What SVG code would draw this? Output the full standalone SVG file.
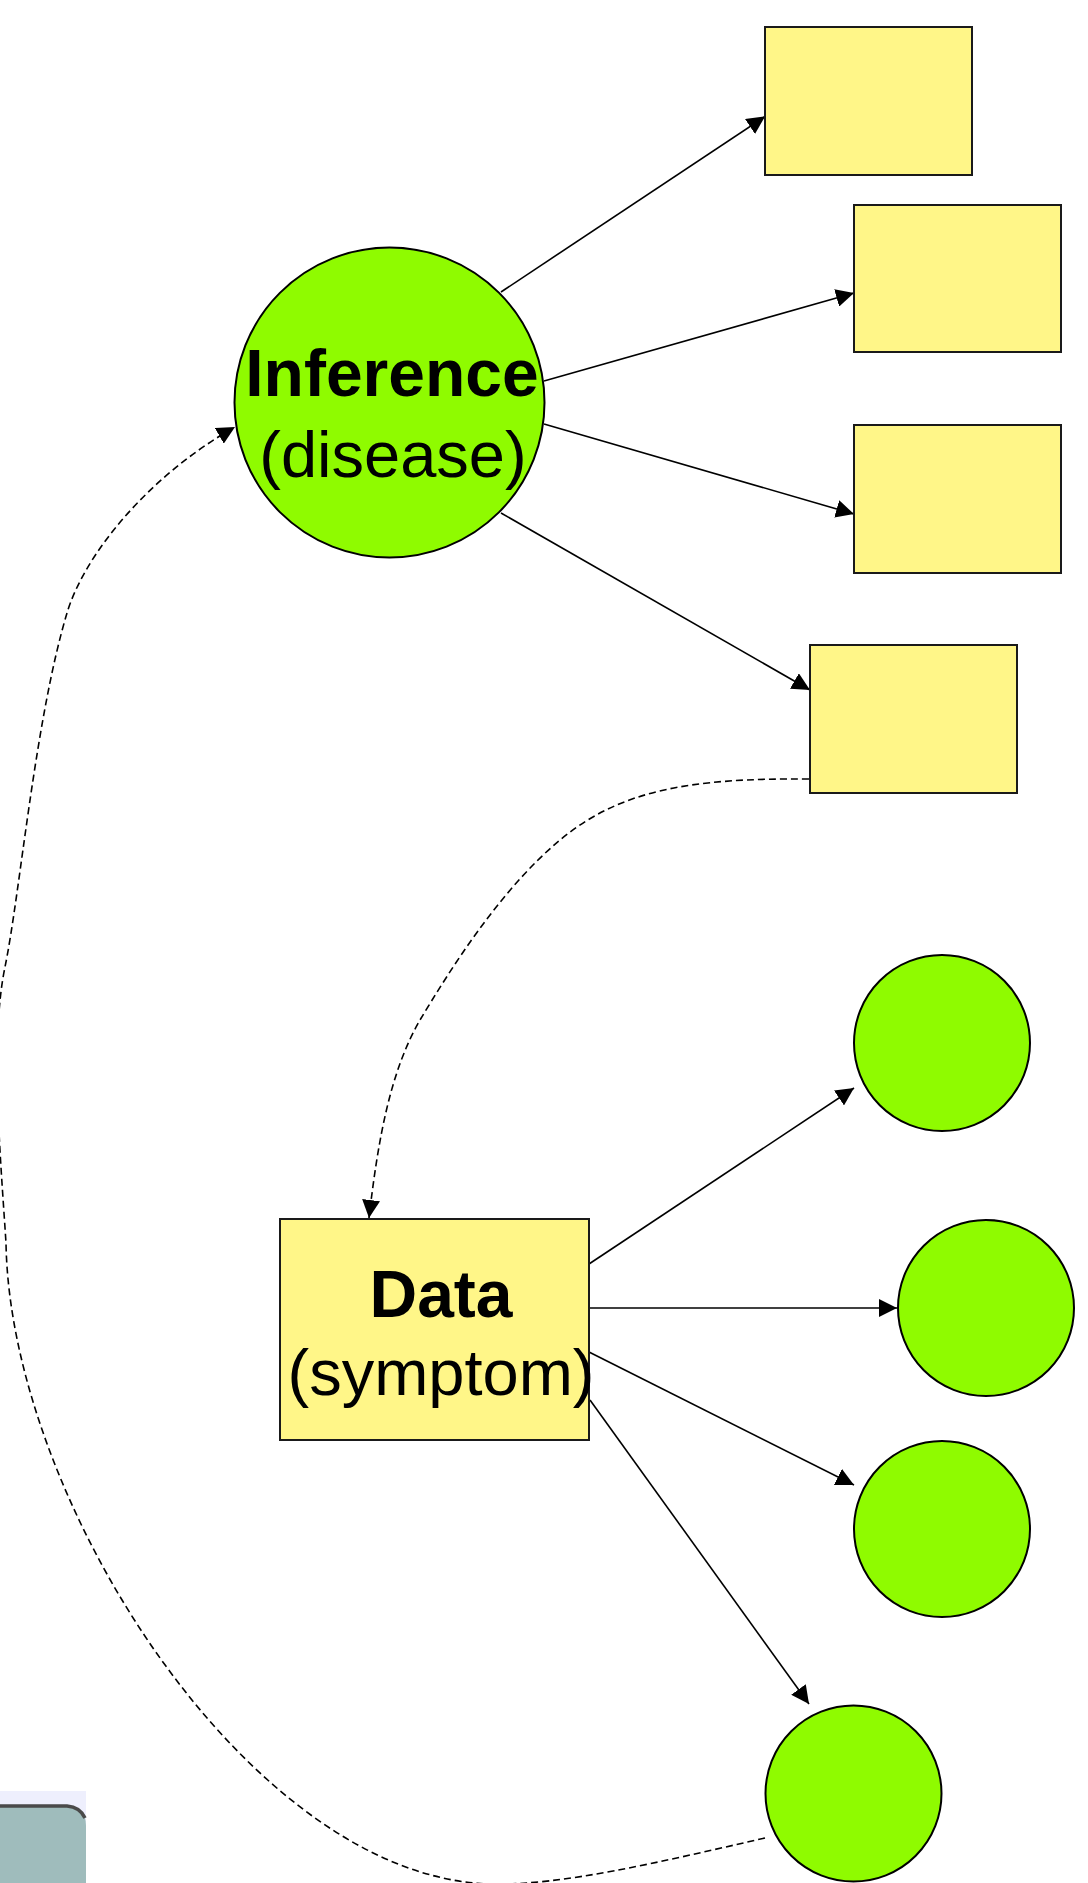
<svg xmlns="http://www.w3.org/2000/svg" width="1088" height="1883" viewBox="0 0 1088 1883">
<style>
.circ{fill:#8FFB00;stroke:#000;stroke-width:2}
.box{fill:#FFF688;stroke:#1a1a1a;stroke-width:2}
.edge{fill:none;stroke:#000;stroke-width:1.6}
.dash{fill:none;stroke:#000;stroke-width:1.6;stroke-dasharray:7,4}
.bold{font-family:"Liberation Sans",Arial,sans-serif;font-weight:bold;font-size:66px;fill:#000}
.reg{font-family:"Liberation Sans",Arial,sans-serif;font-size:65px;fill:#000}
</style>
<defs>
<marker id="arr" markerUnits="userSpaceOnUse" markerWidth="18" markerHeight="18" refX="18" refY="9" orient="auto">
<path d="M0,0 L18,9 L0,18 Z" fill="#000"/>
</marker>
</defs>
<rect width="1088" height="1883" fill="#fff"/>

<g id="corner">
<rect x="0" y="1791" width="86" height="92" fill="#EEEFFD"/>
<path d="M0,1806 H67 Q86,1806 86,1826 V1883 H0 Z" fill="#9FBCBC"/>
<path d="M0,1806 H67 Q80,1807 85,1818" fill="none" stroke="#4A4A4A" stroke-width="3.5"/>
</g>

<g id="connectors">
<line class="edge" x1="501" y1="292" x2="765" y2="116.5" marker-end="url(#arr)"/>
<line class="edge" x1="544" y1="381" x2="854" y2="293" marker-end="url(#arr)"/>
<line class="edge" x1="544" y1="424" x2="854" y2="514" marker-end="url(#arr)"/>
<line class="edge" x1="501" y1="513" x2="810" y2="690" marker-end="url(#arr)"/>
<line class="edge" x1="589" y1="1264" x2="854" y2="1088" marker-end="url(#arr)"/>
<line class="edge" x1="589" y1="1308" x2="897" y2="1308" marker-end="url(#arr)"/>
<line class="edge" x1="589" y1="1352" x2="854" y2="1485" marker-end="url(#arr)"/>
<line class="edge" x1="590" y1="1400" x2="809" y2="1704" marker-end="url(#arr)"/>
<path class="dash" d="M809,779 C690,778 620,790 560,840 C500,890 450,970 420,1020 C390,1072 378,1140 369,1218" marker-end="url(#arr)"/>
<path class="dash" d="M765,1838 C660,1862 560,1886 490,1884 C250,1877 10,1500 6,1243 C0,1150 -10,1040 5,967 C20,894 35,720 67,613 C85,553 150,475 235,427" marker-end="url(#arr)"/>
</g>

<g id="inference">
<circle class="circ" cx="389.5" cy="402.5" r="155"/>
<text class="bold" x="392" y="396" text-anchor="middle">Inference</text>
<text class="reg" x="393" y="477" text-anchor="middle">(disease)</text>
</g>

<g id="box1"><rect class="box" x="765" y="27" width="207" height="148"/></g>
<g id="box2"><rect class="box" x="854" y="205" width="207" height="147"/></g>
<g id="box3"><rect class="box" x="854" y="425" width="207" height="148"/></g>
<g id="box4"><rect class="box" x="810" y="645" width="207" height="148"/></g>

<g id="data">
<rect class="box" x="280" y="1219" width="309" height="221"/>
<text class="bold" x="441" y="1317" text-anchor="middle">Data</text>
<text class="reg" x="441" y="1395" text-anchor="middle">(symptom)</text>
</g>

<g id="c1"><circle class="circ" cx="942" cy="1043" r="88"/></g>
<g id="c2"><circle class="circ" cx="986" cy="1308" r="88"/></g>
<g id="c3"><circle class="circ" cx="942" cy="1529" r="88"/></g>
<g id="c4"><circle class="circ" cx="853.5" cy="1793.5" r="88"/></g>
</svg>
